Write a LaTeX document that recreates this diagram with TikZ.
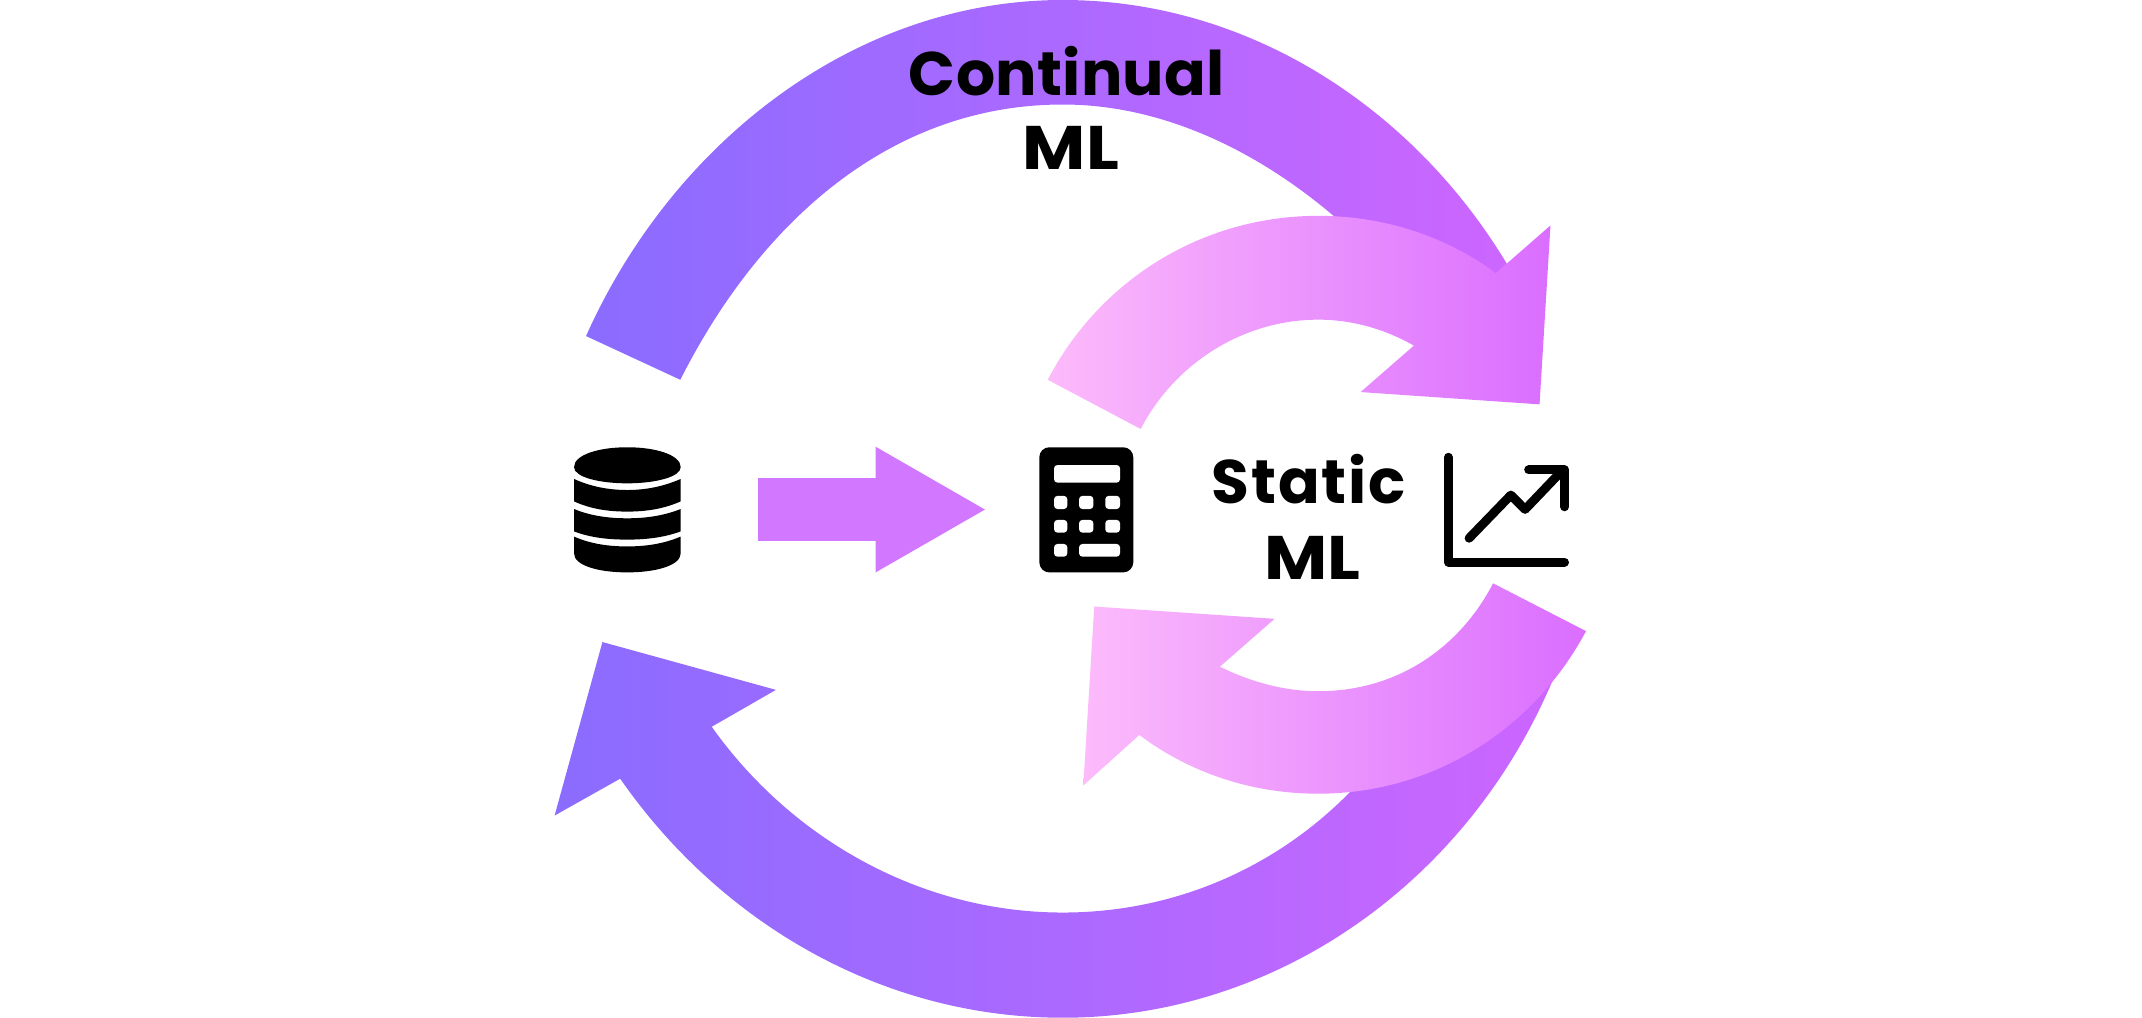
\documentclass[tikz,border=0pt]{standalone}
\usepackage{graphicx}
\usepackage{fontspec}
\setmainfont{Poppins}
\newfontfamily\lblfontA[LetterSpace=0.5]{Poppins}
\newfontfamily\lblfontB[LetterSpace=3]{Poppins}
\definecolor{bigL}{HTML}{8A6CFF}
\definecolor{bigR}{HTML}{CC66FF}
\definecolor{pinkL}{HTML}{FCBBFB}
\definecolor{pinkR}{HTML}{DA6EFF}
\definecolor{midA}{HTML}{D277FF}
\tikzset{
  bigarrow/.style={left color=bigL,right color=bigR,draw=none},
  pinkarrow/.style={left color=pinkL,right color=pinkR,draw=none},
  iconline/.style={draw=black,line width=1.85pt,line cap=round,line join=round},
  lbl/.style={font=\bfseries\fontsize{12.8}{16}\selectfont,text=black,align=center,inner sep=0pt}
}
\begin{document}
\begin{tikzpicture}[x=0.01cm,y=-0.01cm]
\useasboundingbox (0,0) rectangle (1568,745);
% big upper arrow
\path[bigarrow] (429,246) .. controls (492,105) and (625,0) .. (778,0)
  .. controls (915,0) and (1035,80) .. (1103,193) -- (1094,202) -- (1040,215) -- (1000,180)
  .. controls (950,130) and (870,76.5) .. (778,76.5)
  .. controls (650,76.5) and (555,165) .. (498,278) -- cycle;
% big lower arrow
\path[bigarrow] (441,470) -- (568,505) -- (521,532)
  .. controls (580,615) and (675,668) .. (778,668)
  .. controls (860,668) and (935,635) .. (990,578) -- (1100,500) -- (1137,497)
  .. controls (1075,645) and (935,745) .. (778,745)
  .. controls (645,745) and (527,675) .. (454,570) -- (406,597) -- cycle;
% pink upper arrow
\path[pinkarrow] (767,278) .. controls (805,205) and (880,158) .. (965,158)
  .. controls (1015,158) and (1060,174) .. (1095,200) -- (1135,165) -- (1127,296) -- (996,287) -- (1035,253)
  .. controls (1014,241) and (990,234) .. (965,234)
  .. controls (910,234) and (860,266) .. (835,314) -- cycle;
% pink lower arrow
\path[pinkarrow] (1161,462) .. controls (1122,535) and (1048,581) .. (965,581)
  .. controls (915,581) and (870,565) .. (834,538) -- (793,575) -- (801,444) -- (933,453) -- (893,488)
  .. controls (915,499) and (940,506) .. (965,506)
  .. controls (1022,506) and (1068,475) .. (1093,427) -- cycle;
% straight arrow
\path[fill=midA] (555,350) -- (641,350) -- (641,327) -- (721,373) -- (641,419) -- (641,396) -- (555,396) -- cycle;
% database
\fill[black] (420.2,342) .. controls (420.2,333) and (438,327.4) .. (459.2,327.4)
  .. controls (480,327.4) and (498.3,333) .. (498.3,342)
  .. controls (498.3,349) and (480,353.8) .. (459.2,353.8)
  .. controls (438,353.8) and (420.2,349) .. (420.2,342) -- cycle;
\fill[black] (420.2,350.6) .. controls (432,356) and (445,358.7) .. (459.2,358.7) .. controls (473,358.7) and (486,356) .. (498.3,350.6)
  -- (498.3,367) .. controls (486,372.5) and (473,374.5) .. (459.2,374.5) .. controls (445,374.5) and (432,372.5) .. (420.2,367) -- cycle;
\fill[black] (420.2,372.6) .. controls (432,377.5) and (445,379.4) .. (459.2,379.4) .. controls (473,379.4) and (486,377.5) .. (498.3,372.6)
  -- (498.3,389) .. controls (486,393.5) and (473,395) .. (459.2,395) .. controls (445,395) and (432,393.5) .. (420.2,389) -- cycle;
\fill[black] (420.2,392.8) .. controls (432,398) and (445,400) .. (459.2,400) .. controls (473,400) and (486,398) .. (498.3,392.8)
  -- (498.3,405) .. controls (498.3,414) and (480,419) .. (459.2,419) .. controls (438,419) and (420.2,414) .. (420.2,405) -- cycle;
% calculator
\fill[black,rounded corners=2.1pt] (760.8,327.4) rectangle (829.6,419);
\begin{scope}[fill=white,rounded corners=0.7pt]
\fill (771.6,340.4) rectangle (819.9,353.3);
\foreach \yy/\yb in {363/372.6,380.6/389.9}{
  \fill (771.6,\yy) rectangle (781.3,\yb);
  \fill (789.9,\yy) rectangle (800.4,\yb);
  \fill (809.1,\yy) rectangle (819.9,\yb);
}
\fill (771.6,398.2) rectangle (781.3,407.5);
\fill (789.9,398.2) rectangle (819.9,407.5);
\end{scope}
% chart
\draw[iconline] (1060.3,334.7) -- (1060.3,411.5) -- (1145.3,411.5);
\draw[iconline] (1075.4,394) -- (1106,362.4) -- (1116.4,372.9) -- (1144,344);
\draw[iconline] (1119,344) -- (1145.3,344) -- (1145.3,371);
% labels
\node[lbl] (continual) at (781,52) {\lblfontA\bfseries Continual};
\node[lbl] (cml) at (784,108.5) {\scalebox{1.12}[1]{ML}};
\node[lbl] (static) at (958,351) {\lblfontB\bfseries Static};
\node[lbl] (sml) at (961,408.5) {\scalebox{1.12}[1]{ML}};
\end{tikzpicture}
\end{document}
